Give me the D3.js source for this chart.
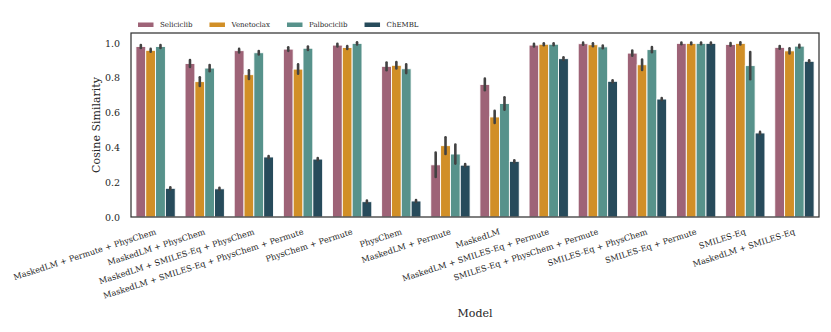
<!DOCTYPE html>
<html>
<head>
<meta charset="utf-8">
<script src="https://cdn.jsdelivr.net/npm/d3@7/dist/d3.min.js"></script>
<style>
  html, body { margin: 0; padding: 0; background: #fff; }
  text { font-family: "DejaVu Serif", serif; fill: #262626; }
</style>
</head>
<body>
<svg id="chart" width="831" height="332"></svg>
<script>
const categories = [
  "MaskedLM + Permute + PhysChem",
  "MaskedLM + PhysChem",
  "MaskedLM + SMILES-Eq + PhysChem",
  "MaskedLM + SMILES-Eq + PhysChem + Permute",
  "PhysChem + Permute",
  "PhysChem",
  "MaskedLM + Permute",
  "MaskedLM",
  "MaskedLM + SMILES-Eq + Permute",
  "SMILES-Eq + PhysChem + Permute",
  "SMILES-Eq + PhysChem",
  "SMILES-Eq + Permute",
  "SMILES-Eq",
  "MaskedLM + SMILES-Eq"
];
const seriesNames = ["Seliciclib", "Venetoclax", "Palbociclib", "ChEMBL"];
const seriesColors = ["#9e6377", "#d18f27", "#57928b", "#274b5b"];

const seliciclib  = [0.980, 0.882, 0.956, 0.965, 0.988, 0.866, 0.300, 0.762, 0.988, 0.996, 0.942, 0.998, 0.992, 0.975];
const venetoclax  = [0.958, 0.778, 0.818, 0.850, 0.974, 0.872, 0.410, 0.575, 0.993, 0.990, 0.875, 0.998, 0.998, 0.955];
const palbociclib = [0.980, 0.856, 0.944, 0.970, 0.998, 0.852, 0.362, 0.652, 0.993, 0.978, 0.962, 0.998, 0.870, 0.982];
const chembl      = [0.165, 0.162, 0.345, 0.333, 0.088, 0.092, 0.298, 0.320, 0.910, 0.780, 0.678, 0.998, 0.483, 0.895];

const seliciclibErr  = [0.008, 0.020, 0.010, 0.010, 0.008, 0.022, 0.070, 0.033, 0.008, 0.006, 0.015, 0.005, 0.008, 0.008];
const venetoclaxErr  = [0.008, 0.025, 0.025, 0.027, 0.008, 0.018, 0.048, 0.035, 0.006, 0.008, 0.030, 0.005, 0.006, 0.015];
const palbociclibErr = [0.008, 0.018, 0.010, 0.010, 0.006, 0.025, 0.055, 0.036, 0.006, 0.008, 0.015, 0.005, 0.078, 0.008];
const chemblErr      = [0.006, 0.006, 0.006, 0.006, 0.006, 0.006, 0.006, 0.006, 0.008, 0.006, 0.006, 0.005, 0.006, 0.006];

const yTicks = [0.0, 0.2, 0.4, 0.6, 0.8, 1.0];

const values = [seliciclib, venetoclax, palbociclib, chembl];
const errs = [seliciclibErr, venetoclaxErr, palbociclibErr, chemblErr];

const svg = d3.select("#chart");
const margin = {left: 131, right: 12, top: 33, bottom: 115};
const W = 831, H = 332;
const x0 = margin.left, x1 = W - margin.right, y0 = H - margin.bottom, y1 = margin.top;

const x = d3.scaleBand().domain(categories).range([x0, x1]).paddingInner(0.2).paddingOuter(0.1);
const xs = d3.scaleBand().domain(seriesNames).range([0, x.bandwidth()]);
const y = d3.scaleLinear().domain([0, 1.0575]).range([y0, y1]);

const data = [];
categories.forEach((c, i) => {
  seriesNames.forEach((s, j) => {
    data.push({cat: c, ser: s, j, v: values[j][i], e: errs[j][i]});
  });
});

// bars
svg.append("g").selectAll("rect").data(data).join("rect")
  .attr("x", d => x(d.cat) + xs(d.ser))
  .attr("y", d => y(d.v))
  .attr("width", xs.bandwidth())
  .attr("height", d => y(0) - y(d.v))
  .attr("fill", d => seriesColors[d.j])
  .attr("stroke", "#fff")
  .attr("stroke-width", 0.9);

// error bars
svg.append("g").selectAll("line").data(data).join("line")
  .attr("x1", d => x(d.cat) + xs(d.ser) + xs.bandwidth() / 2)
  .attr("x2", d => x(d.cat) + xs(d.ser) + xs.bandwidth() / 2)
  .attr("y1", d => y(Math.min(d.v + d.e, 1.055)))
  .attr("y2", d => y(d.v - d.e))
  .attr("stroke", "#424242")
  .attr("stroke-width", 2.6)
  .attr("stroke-linecap", "round");

// frame
svg.append("rect")
  .attr("x", x0).attr("y", y1)
  .attr("width", x1 - x0).attr("height", y0 - y1)
  .attr("fill", "none").attr("stroke", "#333").attr("stroke-width", 1.25);

// y axis
const yAxis = d3.axisLeft(y).tickValues(yTicks).tickFormat(d3.format(".1f")).tickSize(0).tickPadding(11);
const gy = svg.append("g").attr("transform", `translate(${x0},0)`).call(yAxis);
gy.select(".domain").remove();
gy.selectAll("text").style("font-size", "9.5px").style("font-family", "DejaVu Serif").attr("fill", "#262626");

// x axis
const xAxis = d3.axisBottom(x).tickSize(0).tickPadding(0);
const gx = svg.append("g").attr("transform", `translate(0,${y0})`).call(xAxis);
gx.select(".domain").remove();
gx.selectAll("text")
  .style("font-size", "8.2px").style("font-family", "DejaVu Serif").attr("fill", "#262626")
  .attr("text-anchor", "end")
  .attr("dy", null)
  .attr("y", 0)
  .attr("transform", "translate(1,17) rotate(-18)");

// axis titles
svg.append("text")
  .attr("transform", `translate(100,${(y0 + y1) / 2}) rotate(-90)`)
  .attr("text-anchor", "middle")
  .style("font-size", "11px")
  .text("Cosine Similarity");

svg.append("text")
  .attr("x", (x0 + x1) / 2).attr("y", 317)
  .attr("text-anchor", "middle")
  .style("font-size", "11px")
  .text("Model");

// legend
const lg = svg.append("g");
let lx = 138;
const ly = 24.5;
seriesNames.forEach((s, j) => {
  lg.append("rect").attr("x", lx).attr("y", ly - 2).attr("width", 15.5).attr("height", 4.5)
    .attr("fill", seriesColors[j]);
  const t = lg.append("text").attr("x", lx + 22).attr("y", ly).attr("dy", "0.35em")
    .style("font-size", "7px").text(s);
  lx = lx + 22 + t.node().getComputedTextLength() + 17;
});
</script>
</body>
</html>
